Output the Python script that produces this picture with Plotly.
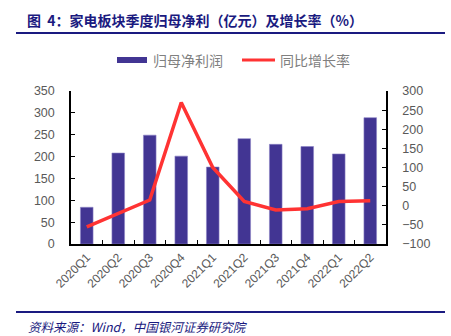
import plotly.graph_objects as go

categories = ["2020Q1", "2020Q2", "2020Q3", "2020Q4", "2021Q1",
              "2021Q2", "2021Q3", "2021Q4", "2022Q1", "2022Q2"]
net_profit = [84, 208, 249, 201, 176, 241, 228, 223, 206, 289]
growth_rate = [-55, -20, 15, 270, 100, 11, -11, -8, 11, 13]

left_ticks = list(range(0, 351, 50))
right_ticks = list(range(-100, 301, 50))

BAR = "#423593"
RED = "#FF3333"
NAVY = "#1a1a80"
GREY = "#595959"
FONT = "Noto Sans CJK SC"

fig = go.Figure()
fig.add_trace(go.Bar(x=categories, y=net_profit, name="归母净利润",
                     marker=dict(color=BAR, line=dict(color="#8a82c4", width=0.6)),
                     width=0.4, yaxis="y"))
fig.add_trace(go.Scatter(x=categories, y=growth_rate, name="同比增长率",
                         mode="lines", line=dict(color=RED, width=3.5),
                         yaxis="y2"))

W, H = 451, 336
L, R, T, B = 71, 65, 91, 92
pw, ph = W - L - R, H - T - B

def px(x):
    return (x - L) / pw

def py(y):
    return (H - B - y) / ph

shapes = [
    dict(type="line", xref="paper", yref="paper", x0=px(16), x1=px(445),
         y0=py(33), y1=py(33), line=dict(color=NAVY, width=2)),
    dict(type="line", xref="paper", yref="paper", x0=px(16), x1=px(445),
         y0=py(312), y1=py(312), line=dict(color=NAVY, width=2)),
    dict(type="rect", xref="paper", yref="paper", x0=px(117), x1=px(147),
         y0=py(63), y1=py(57), fillcolor=BAR, line=dict(width=0)),
    dict(type="line", xref="paper", yref="paper", x0=px(242), x1=px(275),
         y0=py(60), y1=py(60), line=dict(color=RED, width=3)),
]

annotations = [
    dict(text="<b>图  4：家电板块季度归母净利（亿元）及增长率（%）</b>", xref="paper", yref="paper",
         x=px(25), y=py(20), xanchor="left", yanchor="middle", showarrow=False,
         font=dict(family=FONT, size=14, color=NAVY)),
    dict(text="归母净利润", xref="paper", yref="paper", x=px(151), y=py(60),
         xanchor="left", yanchor="middle", showarrow=False,
         font=dict(family=FONT, size=14, color="#808080")),
    dict(text="同比增长率", xref="paper", yref="paper", x=px(278), y=py(60),
         xanchor="left", yanchor="middle", showarrow=False,
         font=dict(family=FONT, size=14, color="#808080")),
    dict(text="<i>资料来源：Wind，中国银河证券研究院</i>", xref="paper", yref="paper",
         x=px(26), y=py(326), xanchor="left", yanchor="middle", showarrow=False,
         font=dict(family=FONT, size=12.5, color=NAVY)),
]

fig.update_layout(
    width=W, height=H,
    margin=dict(l=L, r=R, t=T, b=B, pad=0),
    paper_bgcolor="white", plot_bgcolor="white",
    showlegend=False,
    font=dict(family=FONT, color=GREY),
    xaxis=dict(showline=True, linecolor="black", linewidth=1.5,
               ticks="inside", ticklen=4, tickcolor="black", tickson="boundaries",
               tickangle=-45, tickfont=dict(size=12, color=GREY, family="Liberation Sans"),
               showgrid=False),
    yaxis=dict(range=[0, 350], tickvals=left_ticks, showline=True, linecolor="black",
               linewidth=1.5, ticks="inside", ticklen=4, tickcolor="black",
               tickfont=dict(size=12.5, color=GREY, family="Liberation Sans"),
               showgrid=False, zeroline=False, ticklabelstandoff=12),
    yaxis2=dict(range=[-100, 300], tickvals=right_ticks, overlaying="y", side="right",
                showline=True, linecolor="black", linewidth=1.5, ticks="inside",
                ticklen=4, tickcolor="black",
                tickfont=dict(size=12.5, color=GREY, family="Liberation Sans"),
                showgrid=False, zeroline=False, ticklabelstandoff=12),
    shapes=shapes,
    annotations=annotations,
)

fig.write_html("out.html")
